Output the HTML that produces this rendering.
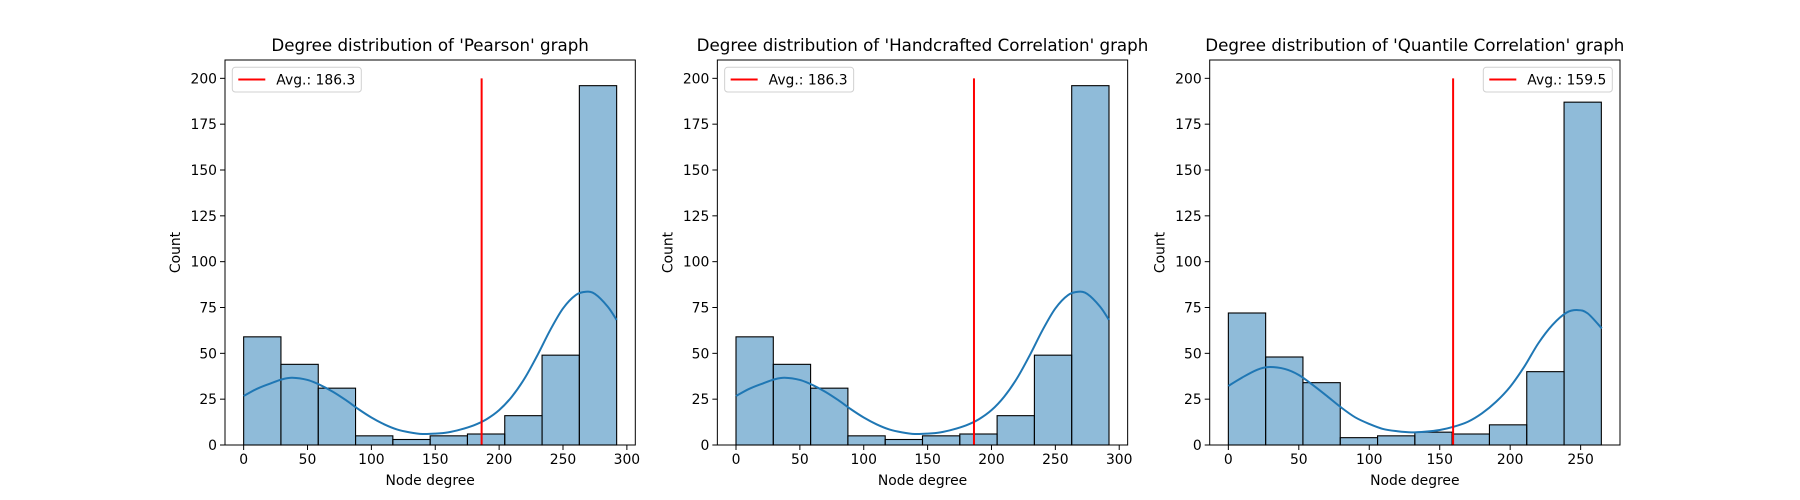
<!DOCTYPE html>
<html><head><meta charset="utf-8"><style>
html,body{margin:0;padding:0;background:#fff;}
svg{display:block;font-family:"DejaVu Sans","Liberation Sans",sans-serif;}
</style></head><body>
<svg id="fig" width="1800" height="500" viewBox="0 0 1800 500" xmlns="http://www.w3.org/2000/svg"></svg>
<script>
// ---- data ----
const titles = ["Degree distribution of 'Pearson' graph","Degree distribution of 'Handcrafted Correlation' graph","Degree distribution of 'Quantile Correlation' graph"];
const binMin = [0, 0, 0];
const binMax = [292, 292, 264.7];
const counts1 = [59,44,31,5,3,5,6,16,49,196];
const counts2 = [59,44,31,5,3,5,6,16,49,196];
const counts3 = [72,48,34,4,5,7,6,11,40,187];
const kdeX1 = [0,10,20,30,38,50,60,70,80,90,100,110,120,130,140,150,160,170,180,190,200,210,220,230,240,250,260,268,275,285,292];
const kdeY1 = [26.7,30.5,33.3,35.8,36.7,35.5,32.7,29,24.5,19.5,15,11.3,8.5,6.9,6,6.2,6.9,8.5,10.7,14,19,26.4,36.4,49,62.7,74.5,81.8,83.6,82.4,75.5,68.2];
const kdeX3 = [0,10,20,28,40,50,60,70,80,90,100,110,120,130,140,150,160,170,180,190,200,210,220,230,240,248,255,265];
const kdeY3 = [32.2,36.9,40.9,42.5,41.5,38.2,32.7,26.7,20.5,15.1,11.5,8.7,7.5,6.9,7.3,8.2,10,12.7,17.3,23.6,31.8,42.7,55.5,65.5,72.2,73.6,71.8,63.6];
const avgs = [186.3, 186.3, 159.5];
const avgLabels = ["Avg.: 186.3","Avg.: 186.3","Avg.: 159.5"];
const xTicks1 = [0,50,100,150,200,250,300];
const xTicks3 = [0,50,100,150,200,250];
const yTicks = [0,25,50,75,100,125,150,175,200];
const legendRight = [false,false,true];

const NS="http://www.w3.org/2000/svg";
const svg=document.getElementById('fig');
function mk(tag,attrs,parent){const e=document.createElementNS(NS,tag);for(const k in attrs)e.setAttribute(k,attrs[k]);(parent||svg).appendChild(e);return e;}

const axW=410.3, axTop=60, axBottom=445;
const lefts=[225, 717.35, 1209.7];
const allCounts=[counts1,counts2,counts3];
const allKX=[kdeX1,kdeX1,kdeX3], allKY=[kdeY1,kdeY1,kdeY3];
const allXT=[xTicks1,xTicks1,xTicks3];

for(let p=0;p<3;p++){
  const L=lefts[p], R=L+axW;
  const g=mk('g',{});
  
  
  const lo=binMin[p], hi=binMax[p], rng=hi-lo;
  const x0=lo-0.05*rng, x1=hi+0.05*rng;
  const X=v=>L+(v-x0)/(x1-x0)*axW;
  const Y=v=>axBottom-v/210*(axBottom-axTop);
  const cnt=allCounts[p], n=cnt.length, bw=rng/n;
  for(let i=0;i<n;i++){
    const r=mk('rect',{x:X(lo+i*bw),y:Y(cnt[i]),width:X(lo+(i+1)*bw)-X(lo+i*bw),height:Y(0)-Y(cnt[i]),fill:'rgba(31,119,180,0.5)',stroke:'#000','stroke-width':1.1},g);
    
    
  }
  const kx=allKX[p], ky=allKY[p];
  const pts=kx.map((v,i)=>[X(v),Y(ky[i])]);
  let d='M'+pts[0][0]+','+pts[0][1];
  for(let i=0;i<pts.length-1;i++){
    const a=pts[Math.max(0,i-1)],b=pts[i],c=pts[i+1],e=pts[Math.min(pts.length-1,i+2)];
    d+=' C'+(b[0]+(c[0]-a[0])/6)+','+(b[1]+(c[1]-a[1])/6)+' '+(c[0]-(e[0]-b[0])/6)+','+(c[1]-(e[1]-b[1])/6)+' '+c[0]+','+c[1];
  }
  const kde=mk('path',{d:d,fill:'none',stroke:'#1f77b4','stroke-width':2},g);
  
  
  const av=mk('line',{x1:X(avgs[p]),x2:X(avgs[p]),y1:Y(0),y2:Y(200),stroke:'red','stroke-width':2},g);
  
  
  const fr=mk('rect',{x:L,y:axTop,width:axW,height:axBottom-axTop,fill:'none',stroke:'#000','stroke-width':1},g);
  
  
  for(const t of allXT[p]){
    mk('line',{x1:X(t),x2:X(t),y1:axBottom,y2:axBottom+5,stroke:'#000','stroke-width':1},g);
    const tl=mk('text',{x:X(t),y:axBottom+19,'font-size':13.9,'text-anchor':'middle'},g);
    tl.textContent=t;
    
    
  }
  for(const t of yTicks){
    mk('line',{x1:L-5,x2:L,y1:Y(t),y2:Y(t),stroke:'#000','stroke-width':1},g);
    const tl=mk('text',{x:L-8,y:Y(t)+5,'font-size':13.9,'text-anchor':'end'},g);
    tl.textContent=t;
    
    
  }
  const tt=mk('text',{x:L+axW/2,y:51,'font-size':16.7,'text-anchor':'middle'},g);
  tt.textContent=titles[p];
  
  
  const xl=mk('text',{x:L+axW/2,y:485,'font-size':13.9,'text-anchor':'middle'},g);
  xl.textContent='Node degree';
  
  
  const yl=mk('text',{x:0,y:0,'font-size':13.9,'text-anchor':'middle',transform:'translate('+(L-45)+','+((axTop+axBottom)/2)+') rotate(-90)'},g);
  yl.textContent='Count';
  
  
  const lx=legendRight[p]? R-136.7 : L+7.3;
  const lg=mk('g',{},g);
  
  
  mk('rect',{x:lx,y:67.3,width:129,height:24.7,rx:3,fill:'#fff',stroke:'#d0d0d0','stroke-width':1},lg);
  mk('line',{x1:lx+6,x2:lx+33,y1:79.5,y2:79.5,stroke:'red','stroke-width':2},lg);
  const lt=mk('text',{x:lx+44,y:84.5,'font-size':13.9},lg);
  lt.textContent=avgLabels[p];
  
  
}
</script>
</body></html>
